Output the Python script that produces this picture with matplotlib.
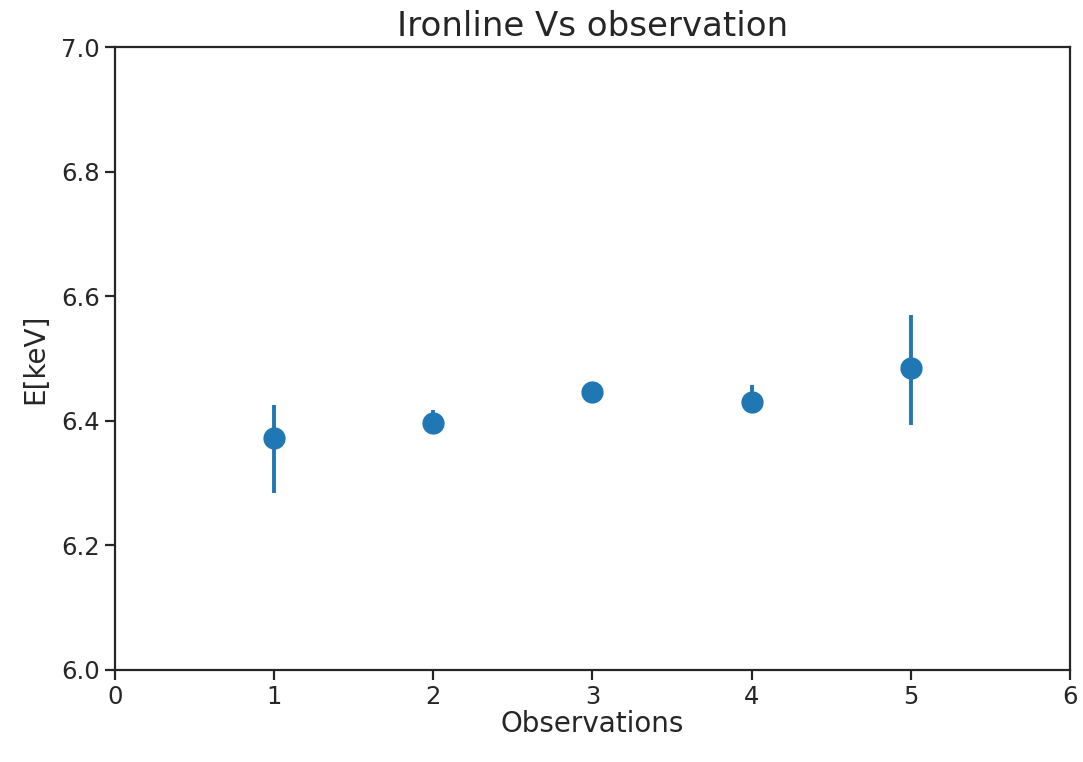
import matplotlib.pyplot as plt

# observation numbers and measured iron line energies
observations = [1, 2, 3, 4, 5]
energy = [6.372, 6.396, 6.446, 6.430, 6.485]
err_low = [0.088, 0.010, 0.004, 0.018, 0.092]
err_high = [0.053, 0.022, 0.004, 0.027, 0.085]

txt = '#262626'

fig = plt.figure(figsize=(10.83, 7.62), dpi=100)
ax = fig.add_axes([0.106, 0.121, 0.882, 0.817])

ax.errorbar(observations, energy, yerr=[err_low, err_high], fmt='o',
            color='#1f77b4', markersize=15, elinewidth=2.8)

ax.set_xlim(0, 6)
ax.set_ylim(6.0, 7.0)
ax.set_xticks([0, 1, 2, 3, 4, 5, 6])
ax.set_yticks([6.0, 6.2, 6.4, 6.6, 6.8, 7.0])
ax.tick_params(labelsize=17.5, length=7, width=1.6, colors=txt, pad=4)
for s in ax.spines.values():
    s.set_linewidth(1.6)
    s.set_color(txt)

ax.set_title("Ironline Vs observation", fontsize=24.5, color=txt, pad=8)
ax.set_xlabel("Observations", fontsize=20, color=txt, labelpad=1)
ax.set_ylabel("E[keV]", fontsize=20, color=txt, labelpad=8)

plt.savefig("out.png", dpi=100)
